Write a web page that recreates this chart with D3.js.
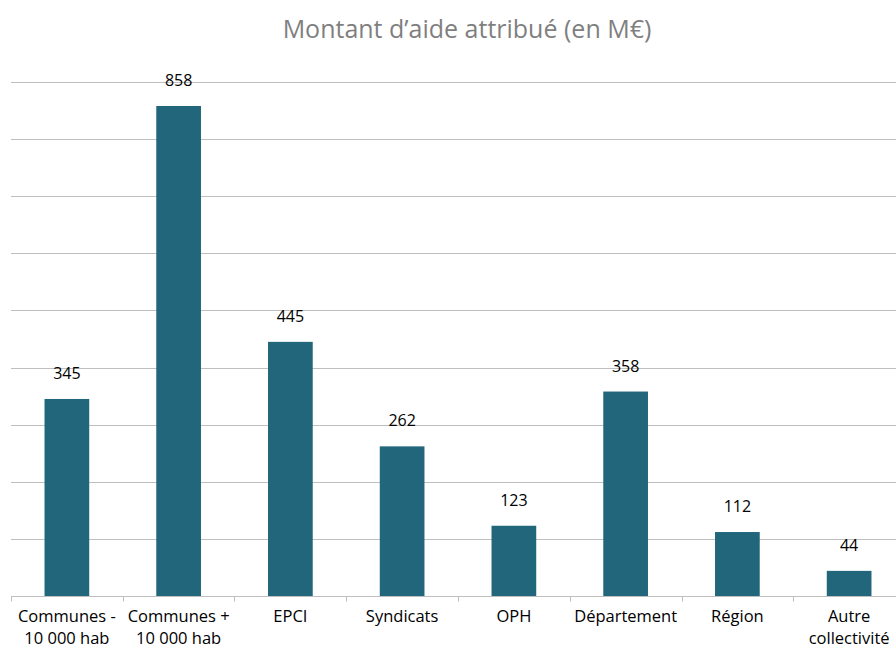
<!DOCTYPE html>
<html>
<head>
<meta charset="utf-8">
<script src="https://cdn.jsdelivr.net/npm/d3@7"></script>
<style>
  body { margin: 0; background: #fff; overflow: hidden; }
  text { font-family: 'Open Sans', 'Noto Sans', sans-serif; }
</style>
</head>
<body>
<script>
const categories = [['Communes -', '10 000 hab'], ['Communes +', '10 000 hab'], ['EPCI'], ['Syndicats'],
  ['OPH'], ['Département'], ['Région'], ['Autre', 'collectivité']];
const values = [345, 858, 445, 262, 123, 358, 112, 44];
const gridTicks = [0, 100, 200, 300, 400, 500, 600, 700, 800, 900];

const width = 896, height = 648;
const margins = {top: 82, bottom: 52, left: 11};

const svg = d3.select('body').append('svg')
  .attr('width', width)
  .attr('height', height);

const x = d3.scaleBand()
  .domain(d3.range(categories.length))
  .range([margins.left, 905])
  .paddingInner(0.6)
  .paddingOuter(0.3);

const y = d3.scaleLinear()
  .domain([0, 900])
  .range([height - margins.bottom, margins.top]);

svg.append('text')
  .attr('x', 467)
  .attr('y', 38)
  .attr('text-anchor', 'middle')
  .attr('fill', '#7f7f7f')
  .style('font-size', '25px')
  .text('Montant d\u2019aide attribué (en M€)');

// gridlines
svg.append('g')
  .selectAll('line')
  .data(gridTicks.slice(1))
  .join('line')
  .attr('x1', margins.left)
  .attr('x2', width)
  .attr('y1', (d) => Math.round(y(d)) + 0.5)
  .attr('y2', (d) => Math.round(y(d)) + 0.5)
  .attr('stroke', '#bfbfbf')
  .attr('stroke-width', 1);

svg.append('g')
  .selectAll('rect')
  .data(values)
  .join('rect')
  .attr('x', (d, i) => x(i))
  .attr('width', x.bandwidth())
  .attr('y', (d) => y(d))
  .attr('height', (d) => y(0) - y(d))
  .attr('fill', '#22667b');

svg.append('g')
  .selectAll('text')
  .data(values)
  .join('text')
  .attr('x', (d, i) => x(i) + x.bandwidth() / 2)
  .attr('y', (d) => y(d) - 20)
  .attr('text-anchor', 'middle')
  .attr('fill', '#000')
  .style('font-size', '16px')
  .text((d) => d);

// axis line + tick marks at category boundaries
const axisY = Math.round(y(0)) + 0.5;
svg.append('line')
  .attr('x1', margins.left)
  .attr('x2', width)
  .attr('y1', axisY)
  .attr('y2', axisY)
  .attr('stroke', '#bfbfbf');

const step = x.step();
svg.append('g')
  .selectAll('line')
  .data(d3.range(categories.length))
  .join('line')
  .attr('x1', (i) => Math.round(x(i) - step * 0.3) + 0.5)
  .attr('x2', (i) => Math.round(x(i) - step * 0.3) + 0.5)
  .attr('y1', axisY)
  .attr('y2', axisY + 5)
  .attr('stroke', '#bfbfbf');

const labels = svg.append('g')
  .selectAll('text')
  .data(categories)
  .join('text')
  .attr('x', (d, i) => x(i) + x.bandwidth() / 2)
  .attr('y', 622)
  .attr('text-anchor', 'middle')
  .attr('fill', '#000')
  .style('font-size', '16.5px');

labels.selectAll('tspan')
  .data((d) => d)
  .join('tspan')
  .attr('x', function () { return this.parentNode.getAttribute('x'); })
  .attr('dy', (d, i) => i === 0 ? 0 : 22)
  .text((d) => d);
</script>
</body>
</html>
